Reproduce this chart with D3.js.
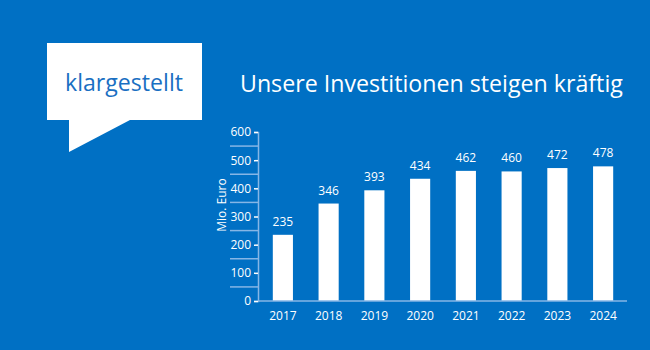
<!DOCTYPE html>
<html><head><meta charset="utf-8">
<script src="https://cdn.jsdelivr.net/npm/d3@7"></script>
<style>html,body{margin:0;padding:0;background:#0070c4;}svg{display:block;}</style>
</head><body>
<svg id="c" width="650" height="350"></svg>
<script>
const categories = ["2017","2018","2019","2020","2021","2022","2023","2024"];
const values = [235,346,393,434,462,460,472,478];
const majorTicks = [0,100,200,300,400,500,600];
const minorTicks = [50,150,250,350,450,550];
const titleText = "Unsere Investitionen steigen kräftig";
const bubbleText = "klargestellt";
const yLabel = "Mio. Euro";

const bg = "#0070c4", axisCol = "#86b6e6", font = "'Open Sans', 'Noto Sans', sans-serif";
const svg = d3.select("#c");
svg.append("rect").attr("width",650).attr("height",350).attr("fill",bg);

// speech bubble
svg.append("path").attr("fill","#fff")
  .attr("d","M47,43 H202 V120 H130 L69,152 V120 H47 Z");
const bt = svg.append("text").text(bubbleText).attr("x",124).attr("y",91)
  .attr("text-anchor","middle").attr("fill","#1a6fc2")
  .attr("font-family",font).attr("font-size",25);

// title
const tt = svg.append("text").text(titleText).attr("x",240).attr("y",92)
  .attr("fill","#fff").attr("font-family",font).attr("font-size",24);
const tw = tt.node().getComputedTextLength();
tt.attr("font-size",24*383/tw);
const bw = bt.node().getComputedTextLength();
bt.attr("font-size",25*118/bw);

const x = d3.scaleBand().domain(categories).range([260,626]).padding(0);
const y = d3.scaleLinear().domain([0,600]).range([301,132]);
const barW = x.bandwidth()*0.44;

// minor ticks (long, left)
svg.append("g").selectAll("line").data(minorTicks).join("line")
  .attr("x1",230).attr("x2",258).attr("y1",d=>y(d)).attr("y2",d=>y(d))
  .attr("stroke",axisCol).attr("stroke-width",1.5);

// y axis
const yAxis = svg.append("g").attr("transform","translate(258,0)")
  .call(d3.axisLeft(y).tickValues(majorTicks).tickSize(4).tickPadding(3));
yAxis.select(".domain").attr("stroke",axisCol).attr("stroke-width",1.5);
yAxis.selectAll(".tick line").attr("stroke","#fff").attr("stroke-width",1.5);
yAxis.selectAll(".tick text").attr("fill","#fff").attr("font-family",font).attr("font-size",12);

// bars
svg.append("g").selectAll("rect").data(values).join("rect")
  .attr("x",(d,i)=>x(categories[i])+x.bandwidth()/2-barW/2)
  .attr("width",barW).attr("y",d=>y(d)).attr("height",d=>y(0)-y(d))
  .attr("fill","#fff");

// value labels
svg.append("g").selectAll("text").data(values).join("text")
  .attr("x",(d,i)=>x(categories[i])+x.bandwidth()/2).attr("y",d=>y(d)-9)
  .attr("text-anchor","middle").attr("fill","#fff").attr("font-family",font).attr("font-size",12)
  .text(d=>d);

// x axis
const xAxis = svg.append("g").attr("transform","translate(0,301)")
  .call(d3.axisBottom(x).tickSize(0).tickPadding(10));
xAxis.select(".domain").attr("d","M258,0H627").attr("stroke",axisCol).attr("stroke-width",1.5);
xAxis.selectAll(".tick text").attr("fill","#fff").attr("font-family",font).attr("font-size",12);

// y label
svg.append("text").text(yLabel).attr("transform","translate(226,205) rotate(-90)")
  .attr("text-anchor","middle").attr("fill","#fff").attr("font-family",font).attr("font-size",12);
</script>
</body></html>
